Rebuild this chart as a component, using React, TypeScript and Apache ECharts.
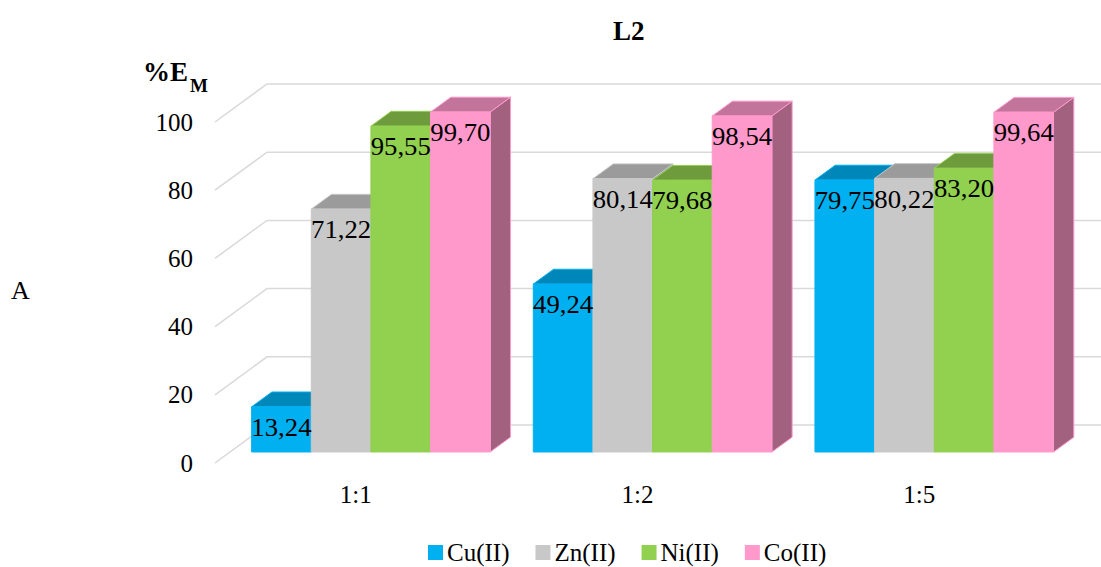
import React, { useEffect, useRef } from "react";
import * as echarts from "echarts";

// Extraction data
const categories = ["1:1", "1:2", "1:5"];
const seriesNames = ["Cu(II)", "Zn(II)", "Ni(II)", "Co(II)"];
const cuValues = [13.24, 49.24, 79.75];
const znValues = [71.22, 80.14, 80.22];
const niValues = [95.55, 79.68, 83.2];
const coValues = [99.7, 98.54, 99.64];
const yTicks = [0, 20, 40, 60, 80, 100];

const FONT = "'Liberation Serif', 'Times New Roman', serif";

// Oblique projection of the chart depth (full depth of the floor)
const DEPTH_X = 52;
const DEPTH_Y = -38;
// Bars occupy this slice of the depth
const BAR_FRONT = 0.29;
const BAR_BACK = 0.68;
// Portion of each category band taken by the group of bars
const GROUP_FRACTION = 0.847;

const palette = [
  { front: "#00b0f0", top: "#0087b9", side: "#00739e" },
  { front: "#c8c8c8", top: "#9b9b9b", side: "#8a8a8a" },
  { front: "#92d050", top: "#6e9b3c", side: "#5f8834" },
  { front: "#ff99cc", top: "#c2749b", side: "#a2617f" },
];

const fmt = (v: number) => v.toFixed(2).replace(".", ",");

function makeBarRenderer(seriesIdx: number) {
  return (params: any, api: any) => {
    const cat = api.value(0);
    const v = api.value(1);
    const base = api.coord([cat, 0]);
    const top = api.coord([cat, v]);
    const band = api.size([1, 0])[0];
    const groupW = band * GROUP_FRACTION;
    const barW = groupW / 4;
    const c = palette[seriesIdx];

    const x0 = base[0] - groupW / 2 + seriesIdx * barW + BAR_FRONT * DEPTH_X;
    const x1 = x0 + barW;
    const yb = base[1] + BAR_FRONT * DEPTH_Y;
    const yt = top[1] + BAR_FRONT * DEPTH_Y;
    const dx = (BAR_BACK - BAR_FRONT) * DEPTH_X;
    const dy = (BAR_BACK - BAR_FRONT) * DEPTH_Y;

    const edge = { stroke: c.front, lineWidth: 1 };
    return {
      type: "group",
      children: [
        {
          type: "polygon",
          shape: { points: [[x1, yt], [x1 + dx, yt + dy], [x1 + dx, yb + dy], [x1, yb]] },
          style: { fill: c.side, ...edge },
        },
        {
          type: "polygon",
          shape: { points: [[x0, yt], [x1, yt], [x1 + dx, yt + dy], [x0 + dx, yt + dy]] },
          style: { fill: c.top, ...edge },
        },
        {
          type: "rect",
          shape: { x: x0, y: yt, width: barW, height: yb - yt },
          style: { fill: c.front, ...edge },
        },
        {
          type: "text",
          z2: 100,
          x: (x0 + x1) / 2,
          y: yt + 21,
          scaleX: 1.07,
          style: {
            text: fmt(v),
            x: 0,
            y: 0,
            align: "center",
            verticalAlign: "middle",
            fill: "#000",
            fontFamily: FONT,
            fontSize: 25,
          },
        },
      ],
    };
  };
}

function renderGrid(params: any, api: any) {
  const v = api.value(0);
  const cs = params.coordSys;
  const y = api.coord([0, v])[1];
  const xl = cs.x;
  const xr = cs.x + cs.width;
  return {
    type: "polyline",
    shape: {
      points: [
        [xl, y],
        [xl + DEPTH_X, y + DEPTH_Y],
        [xr + DEPTH_X, y + DEPTH_Y],
      ],
    },
    style: { stroke: "#d9d9d9", lineWidth: 1.5, fill: "none" },
  };
}

export default function App() {
  const ref = useRef<HTMLDivElement>(null);

  useEffect(() => {
    if (!ref.current) return;
    const chart = echarts.init(ref.current, undefined, { renderer: "svg" });
    const valueSets = [cuValues, znValues, niValues, coValues];

    chart.setOption({
      animation: false,
      backgroundColor: "#fff",
      textStyle: { fontFamily: FONT },
      title: {
        text: "L2",
        left: 608,
        top: 12,
        textStyle: { fontFamily: FONT, fontSize: 27, fontWeight: "bold", color: "#000" },
      },
      legend: {
        data: seriesNames,
        top: 540,
        left: 428,
        padding: 0,
        icon: "rect",
        itemWidth: 15,
        itemHeight: 15,
        itemGap: 26,
        textStyle: {
          fontFamily: FONT,
          fontSize: 25,
          lineHeight: 24,
          color: "#000",
          padding: [0, 0, 0, -1],
        },
      },
      grid: { left: 215, right: 41, top: 122, bottom: 104 },
      xAxis: {
        type: "category",
        data: categories,
        axisLine: { show: false },
        axisTick: { show: false },
        axisLabel: { margin: 19, fontFamily: FONT, fontSize: 25, color: "#000" },
      },
      yAxis: {
        type: "value",
        min: 0,
        max: 100,
        interval: 20,
        splitLine: { show: false },
        axisLine: { show: false },
        axisTick: { show: false },
        axisLabel: { margin: 22, fontFamily: FONT, fontSize: 25, color: "#000" },
      },
      graphic: [
        {
          type: "text",
          left: 143,
          top: 58,
          style: { text: "%E", fontFamily: FONT, fontSize: 27, fontWeight: "bold", fill: "#000" },
        },
        {
          type: "text",
          left: 190,
          top: 76,
          style: { text: "M", fontFamily: FONT, fontSize: 19, fontWeight: "bold", fill: "#000" },
        },
        {
          type: "text",
          left: 11,
          top: 277,
          style: { text: "A", fontFamily: FONT, fontSize: 26, fill: "#000" },
        },
      ],
      series: [
        {
          type: "custom",
          name: "grid",
          silent: true,
          clip: false,
          z: 1,
          renderItem: renderGrid,
          data: yTicks.map((t) => [t]),
          encode: { y: 0 },
        },
        ...seriesNames.map((name, i) => ({
          type: "custom",
          name,
          clip: false,
          z: 2,
          itemStyle: { color: palette[i].front },
          renderItem: makeBarRenderer(i),
          data: valueSets[i].map((v, c) => [c, v]),
          encode: { x: 0, y: 1 },
        })),
      ],
    });

    return () => chart.dispose();
  }, []);

  return (
    <div
      ref={ref}
      style={{ position: "absolute", left: 0, top: 0, width: 1101, height: 567 }}
    />
  );
}
